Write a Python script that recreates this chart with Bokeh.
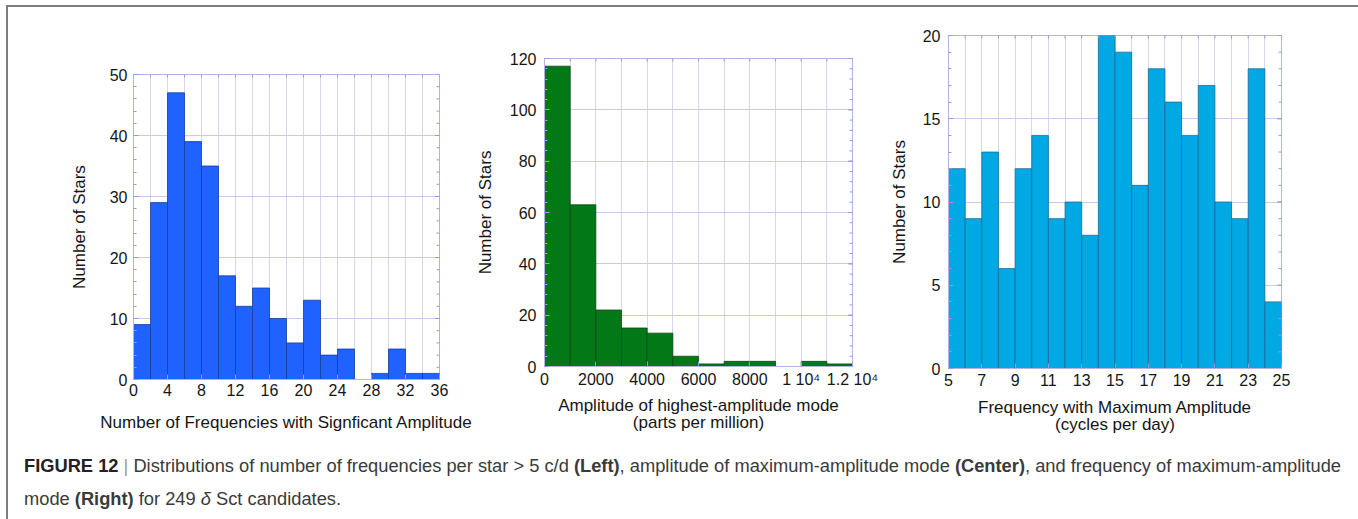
import math
from bokeh.plotting import figure
from bokeh.models import Range1d, FixedTicker, Div, ColumnDataSource
from bokeh.layouts import row, column
from bokeh.embed import file_html
from bokeh.resources import INLINE

# ---------------- data ----------------
# Left: number of frequencies with significant amplitude (bin width 2)
nfreq_bin_lo = [0, 2, 4, 6, 8, 10, 12, 14, 16, 18, 20, 22, 24, 26, 28, 30, 32, 34]
nfreq_stars = [9, 29, 47, 39, 35, 17, 12, 15, 10, 6, 13, 4, 5, 0, 1, 5, 1, 1]
nfreq_bin_w = 2
nfreq_xticks = [0, 4, 8, 12, 16, 20, 24, 28, 32, 36]
nfreq_yticks = [0, 10, 20, 30, 40, 50]

# Center: amplitude of highest-amplitude mode, ppm (bin width 1000)
amp_bin_lo = [0, 1000, 2000, 3000, 4000, 5000, 6000, 7000, 8000, 9000, 10000, 11000]
amp_stars = [117, 63, 22, 15, 13, 4, 1, 2, 2, 0, 2, 1]
amp_bin_w = 1000
amp_xticks = [0, 2000, 4000, 6000, 8000, 10000, 12000]
amp_xtick_labels = ["0", "2000", "4000", "6000", "8000", "1 10\u2074", "1.2 10\u2074"]
amp_yticks = [0, 20, 40, 60, 80, 100, 120]

# Right: frequency with maximum amplitude, c/d (bin width 1)
fmax_bin_lo = [5, 6, 7, 8, 9, 10, 11, 12, 13, 14, 15, 16, 17, 18, 19, 20, 21, 22, 23, 24]
fmax_stars = [12, 9, 13, 6, 12, 14, 9, 10, 8, 20, 19, 11, 18, 16, 14, 17, 10, 9, 18, 4]
fmax_bin_w = 1
fmax_xticks = [5, 7, 9, 11, 13, 15, 17, 19, 21, 23, 25]
fmax_yticks = [0, 5, 10, 15, 20]

FONT = "Liberation Sans"
FRAME = "#b4b4e4"
GRID = "#d6d6f0"
TICK = "#9a9ad0"


def panel(bin_lo, counts, bin_w, xticks, yticks, fill, edge, xtitle, ytitle,
          w, h, bl, br, bt, bb, xstand, ystand, xlab_stand, ylab_stand, xlabels=None):
    x0, x1 = xticks[0], xticks[-1]
    y0, y1 = yticks[0], yticks[-1]
    src = ColumnDataSource(dict(left=bin_lo, right=[b + bin_w for b in bin_lo],
                                top=counts, bottom=[0] * len(counts)))
    p = figure(width=w, height=h, x_range=Range1d(x0, x1), y_range=Range1d(y0, y1),
               output_backend="svg", toolbar_location=None,
               min_border_left=bl, min_border_right=br, min_border_top=bt, min_border_bottom=bb)
    p.quad(left="left", right="right", top="top", bottom="bottom", source=src,
           fill_color=fill, line_color=edge, line_width=0.8)
    p.outline_line_color = FRAME
    p.outline_line_width = 1
    p.background_fill_color = "white"
    p.border_fill_color = "white"

    edges = bin_lo + [bin_lo[-1] + bin_w]
    p.xgrid.ticker = FixedTicker(ticks=edges)
    p.ygrid.ticker = FixedTicker(ticks=yticks)
    p.xgrid.grid_line_color = GRID
    p.ygrid.grid_line_color = "#cacaec"
    p.grid.level = "underlay"

    ystep = (yticks[1] - yticks[0]) / 5
    yminor = [y0 + i * ystep for i in range(int(round((y1 - y0) / ystep)) + 1)]
    p.xaxis.ticker = FixedTicker(ticks=xticks, minor_ticks=[])
    p.yaxis.ticker = FixedTicker(ticks=yticks, minor_ticks=yminor)
    if xlabels:
        p.xaxis.major_label_overrides = {v: s for v, s in zip(xticks, xlabels)}

    for ax in (p.xaxis[0], p.yaxis[0]):
        ax.axis_line_color = FRAME
        ax.major_tick_in = 5
        ax.major_tick_out = 0
        ax.minor_tick_in = 3
        ax.minor_tick_out = 0
        ax.major_tick_line_color = TICK
        ax.minor_tick_line_color = TICK
        ax.major_label_text_font = FONT
        ax.major_label_text_font_size = "16px"
        ax.major_label_text_color = "#151515"
        ax.axis_label_text_font = FONT
        ax.axis_label_text_font_size = "17px"
        ax.axis_label_text_font_style = "normal"
        ax.axis_label_text_color = "#151515"
        ax.axis_label_text_line_height = 0.9
    p.xaxis.major_label_standoff = xstand
    p.yaxis.major_label_standoff = ystand
    p.xaxis.axis_label_standoff = xlab_stand
    p.yaxis.axis_label_standoff = ylab_stand
    p.xaxis.axis_label = xtitle
    p.yaxis.axis_label = ytitle

    # inward tick marks on the right and top edges of the frame (half of each dash is clipped)
    p.scatter(x=[x1] * len(yminor), y=yminor, marker="dash", size=6,
              line_color=TICK, line_width=1)
    p.scatter(x=[x1] * len(yticks), y=yticks, marker="dash", size=9,
              line_color=TICK, line_width=1)
    p.scatter(x=edges, y=[y1] * len(edges), marker="dash", size=6, angle=math.pi / 2,
              line_color=TICK, line_width=1)
    return p


p1 = panel(nfreq_bin_lo, nfreq_stars, nfreq_bin_w, nfreq_xticks, nfreq_yticks,
           "#1f62ff", "#1a3d9c",
           "Number of Frequencies with Signficant Amplitude", "Number of Stars",
           464, 440, 125, 33, 67, 68, 4, 6, 14, 18)

p2 = panel(amp_bin_lo, amp_stars, amp_bin_w, amp_xticks, amp_yticks,
           "#037816", "#0b4a12",
           "Amplitude of highest-amplitude mode\n(parts per million)", "Number of Stars",
           412, 440, 72, 32, 51, 81, 4, 8, 5, 12, xlabels=amp_xtick_labels)

p3 = panel(fmax_bin_lo, fmax_stars, fmax_bin_w, fmax_xticks, fmax_yticks,
           "#00a8e4", "#1b6c96",
           "Frequency with Maximum Amplitude\n(cycles per day)", "Number of Stars",
           470, 440, 64, 73, 28, 79, 5, 8, 9, 11)

caption = Div(
    text=('<div style="font-family:\'Liberation Sans\',Arial,sans-serif;font-size:18.3px;'
          'line-height:33px;color:#3a3a3a;margin-top:-3px;padding:0 0 0 11px;white-space:nowrap;">'
          '<b style="color:#222">FIGURE 12</b> <span style="color:#999">|</span> '
          'Distributions of number of frequencies per star &gt; 5 c/d <b>(Left)</b>, '
          'amplitude of maximum-amplitude mode <b>(Center)</b>, and frequency of '
          'maximum-amplitude<br>mode <b>(Right)</b> for 249 <i>\u03b4</i> Sct candidates.</div>'),
    width=1346, height=72)

layout = column(row(column(p1), column(p2), column(p3)), caption,
                styles={"border-top": "2px solid #7d7d7d",
                        "border-left": "2px solid #7d7d7d",
                        "border-right": "2px solid #7d7d7d"},
                margin=(5, 0, 0, 6))

open("out.html", "w").write(file_html(layout, INLINE))
